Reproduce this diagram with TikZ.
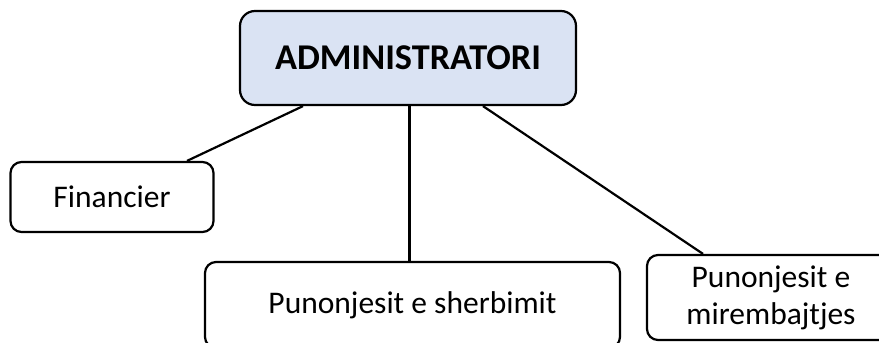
\documentclass[tikz,border=0pt]{standalone}
\usepackage{fontspec}
\setmainfont{Carlito}
\definecolor{boxblue}{HTML}{DAE3F3}
\begin{document}
\begin{tikzpicture}[x=1pt,y=-1pt,
  box/.style={draw=black, line width=2.2pt, rounded corners=11pt, fill=white, inner sep=0pt, align=center, font=\fontsize{31.5}{37}\selectfont},
  link/.style={line width=2.2pt}]
\useasboundingbox (0,0) rectangle (879,343);
\node[box, fill=boxblue, rounded corners=15pt, minimum width=336pt, minimum height=94pt, font=\fontsize{36.3}{40}\selectfont\bfseries] (admin) at (408,58) {ADMINISTRATORI};
\node[box, minimum width=203pt, minimum height=70pt] (fin) at (112,197) {Financier};
\node[box, minimum width=415pt, minimum height=86pt] (serv) at (412.5,305) {Punonjesit e sherbimit};
\node[box, minimum width=248pt, minimum height=85pt] (maint) at (771,297.5) {Punonjesit e\\mirembajtjes};
\draw[link] ([xshift=-105pt]admin.south) -- ([xshift=75pt]fin.north);
\draw[link] ([xshift=1.5pt]admin.south) -- ([xshift=-3pt]serv.north);
\draw[link] ([xshift=75pt]admin.south) -- ([xshift=-68pt]maint.north);
\end{tikzpicture}
\end{document}
